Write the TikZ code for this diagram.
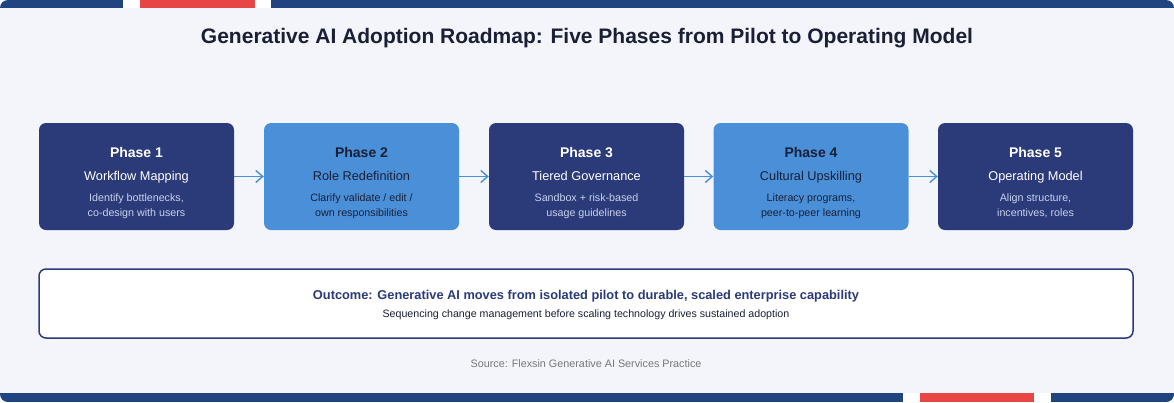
\documentclass[tikz,border=0pt]{standalone}
\usepackage{fontspec}
\setmainfont{Liberation Sans}
\usetikzlibrary{arrows.meta}

\definecolor{pagebg}{HTML}{F4F5FA}
\definecolor{barblue}{HTML}{1F4480}
\definecolor{barred}{HTML}{E84646}
\definecolor{navy}{HTML}{2B3A78}
\definecolor{sky}{HTML}{4A90D9}
\definecolor{ink}{HTML}{1A1F36}
\definecolor{paleink}{HTML}{C9D2EE}
\definecolor{srcgray}{HTML}{777777}

\tikzset{
  darkphase/.style={fill=navy, rounded corners=7pt, minimum width=195pt, minimum height=107pt, inner sep=0pt},
  lightphase/.style={fill=sky, rounded corners=7pt, minimum width=195pt, minimum height=107pt, inner sep=0pt},
  flow/.style={draw=sky, line width=1.4pt, -{Straight Barb[length=7pt,width=12pt,line width=1.4pt]}},
  headtxt/.style={font=\fontsize{14}{16}\selectfont\bfseries, anchor=base},
  subtxt/.style={font=\fontsize{12.75}{14}\selectfont, anchor=base},
  desctxt/.style={font=\fontsize{10.7}{15.5}\selectfont, align=center,
    execute at begin node=\strut, execute at end node=\strut}
}

\begin{document}
\begin{tikzpicture}[x=1pt, y=-1pt]
    \useasboundingbox (0,0) rectangle (1174,402);

    % card and the two colour bars
    \begin{scope}
    \clip[rounded corners=8pt] (0,0) rectangle (1174,402);
    \fill[pagebg] (0,0) rectangle (1174,402);
    \fill[barblue] (0,0) rectangle (123,8);
    \fill[white] (123,0) rectangle (140,8);
    \fill[barred] (140,0) rectangle (255,8);
    \fill[white] (255,0) rectangle (271,8);
    \fill[barblue] (271,0) rectangle (1174,8);
    \fill[barblue] (0,393) rectangle (903,402);
    \fill[white] (903,393) rectangle (920,402);
    \fill[barred] (920,393) rectangle (1034,402);
    \fill[white] (1034,393) rectangle (1051,402);
    \fill[barblue] (1051,393) rectangle (1174,402);
    \end{scope}

    \node[text=ink, font=\fontsize{21}{24}\selectfont\bfseries] (title) at (587,38)
        {Generative AI Adoption Roadmap: Five Phases from Pilot to Operating Model};

    % phases
    \node[darkphase] (p1) at (136.5,176.5) {};
    \node[lightphase] (p2) at (361.5,176.5) {};
    \node[darkphase] (p3) at (586.5,176.5) {};
    \node[lightphase] (p4) at (811,176.5) {};
    \node[darkphase] (p5) at (1035.5,176.5) {};

    \node[headtxt, text=white] (p1h) at (136.5,157.3) {Phase 1};
    \node[subtxt, text=white] (p1s) at (136.5,180.5) {Workflow Mapping};
    \node[desctxt, text=paleink] (p1d) at (136.5,207.5) {Identify bottlenecks,\\co-design with users};

    \node[headtxt, text=ink] (p2h) at (361.5,157.3) {Phase 2};
    \node[subtxt, text=ink] (p2s) at (361.5,180.5) {Role Redefinition};
    \node[desctxt, text=ink] (p2d) at (361.5,207.5) {Clarify validate / edit /\\own responsibilities};

    \node[headtxt, text=white] (p3h) at (586.5,157.3) {Phase 3};
    \node[subtxt, text=white] (p3s) at (586.5,180.5) {Tiered Governance};
    \node[desctxt, text=paleink] (p3d) at (586.5,207.5) {Sandbox + risk-based\\usage guidelines};

    \node[headtxt, text=ink] (p4h) at (811,157.3) {Phase 4};
    \node[subtxt, text=ink] (p4s) at (811,180.5) {Cultural Upskilling};
    \node[desctxt, text=ink] (p4d) at (811,207.5) {Literacy programs,\\peer-to-peer learning};

    \node[headtxt, text=white] (p5h) at (1035.5,157.3) {Phase 5};
    \node[subtxt, text=white] (p5s) at (1035.5,180.5) {Operating Model};
    \node[desctxt, text=paleink] (p5d) at (1035.5,207.5) {Align structure,\\incentives, roles};

    \draw[flow] (p1) -- (p2);
    \draw[flow] (p2) -- (p3);
    \draw[flow] (p3) -- (p4);
    \draw[flow] (p4) -- (p5);

    % outcome
    \node[draw=navy, line width=1.5pt, fill=white, rounded corners=7pt, minimum width=1094pt, minimum height=69pt] (outcome) at (586,303.5) {};
    \node[text=navy, font=\fontsize{12.8}{15}\selectfont\bfseries] (outhead) at (586,296)
        {Outcome: Generative AI moves from isolated pilot to durable, scaled enterprise capability};
    \node[text=ink, font=\fontsize{10.65}{12}\selectfont] (outsub) at (586,315)
        {Sequencing change management before scaling technology drives sustained adoption};

    \node[text=srcgray, font=\fontsize{10.8}{12}\selectfont] (source) at (586,364)
        {Source: Flexsin Generative AI Services Practice};
\end{tikzpicture}
\end{document}
